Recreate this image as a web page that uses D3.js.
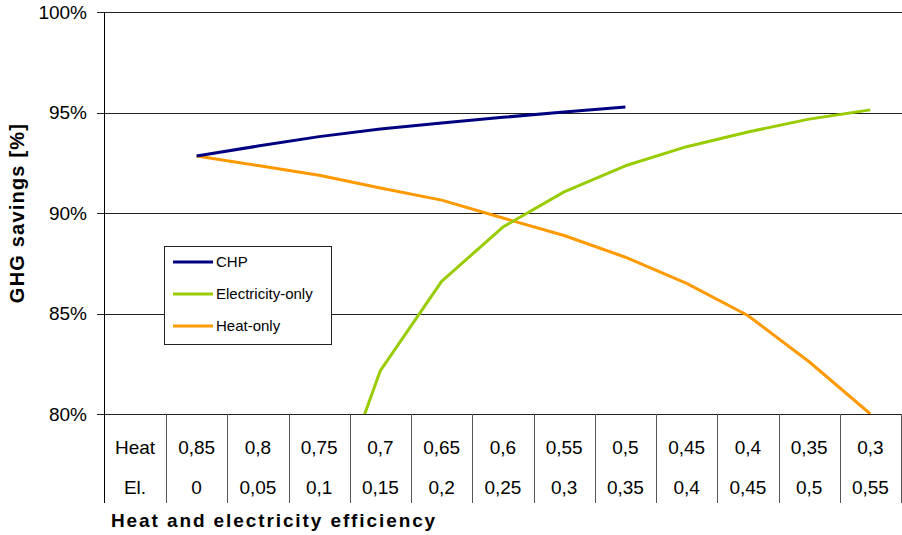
<!DOCTYPE html>
<html><head><meta charset="utf-8">
<script src="https://cdn.jsdelivr.net/npm/d3@7"></script>
<style>body{margin:0;background:#fff}svg{display:block;font-family:"Liberation Sans",Arial,sans-serif}</style>
</head><body>
<script>
const heatEff = ["0,85","0,8","0,75","0,7","0,65","0,6","0,55","0,5","0,45","0,4","0,35","0,3"];
const elEff   = ["0","0,05","0,1","0,15","0,2","0,25","0,3","0,35","0,4","0,45","0,5","0,55"];
const chp        = [92.84, 93.33, 93.8, 94.18, 94.48, 94.76, 95.03, 95.27, null, null, null, null];
const elecOnly   = [null, null, 73.7, 82.16, 86.6, 89.3, 91.05, 92.35, 93.3, 94.03, 94.67, 95.13];
const heatOnly   = [92.84, 92.36, 91.88, 91.24, 90.64, 89.75, 88.88, 87.8, 86.5, 84.9, 82.6, 80.0];
const yTicks = [80, 85, 90, 95, 100];
const seriesNames = ["CHP", "Electricity-only", "Heat-only"];
const seriesColors = ["#000080", "#99cc00", "#ff9900"];

(function(){
const W = 902, H = 535;
const pl = 104, pr = 901, pt = 12, pb = 414, tableBottom = 503, labelColRight = 166;
const svg = d3.select("body").append("svg").attr("width", W).attr("height", H);

const x = d3.scaleBand().domain(d3.range(heatEff.length)).range([labelColRight, pr]).padding(0);
const y = d3.scaleLinear().domain([80, 100]).range([pb, pt]);

svg.append("defs").append("clipPath").attr("id","plot")
  .append("rect").attr("x", pl).attr("y", pt - 2).attr("width", W - pl).attr("height", pb - pt + 2);

// gridlines
svg.append("g").selectAll("line").data(yTicks).join("line")
  .attr("x1", pl - 7).attr("x2", W)
  .attr("y1", d => Math.round(y(d)) + 0.5).attr("y2", d => Math.round(y(d)) + 0.5)
  .attr("stroke", "#222").attr("stroke-width", 1);

// y tick labels
svg.append("g").selectAll("text").data(yTicks).join("text")
  .attr("x", 87).attr("y", d => y(d)).attr("dy", "0.35em")
  .attr("text-anchor", "end").attr("font-size", 19).attr("fill", "#000")
  .text(d => d + "%");

// left axis line
svg.append("line").attr("x1", pl + 0.5).attr("x2", pl + 0.5).attr("y1", pt).attr("y2", tableBottom)
  .attr("stroke", "#000");

// table vertical lines
const bounds = x.domain().map(i => x(i)).concat([pr]);
svg.append("g").selectAll("line").data(bounds).join("line")
  .attr("x1", d => Math.round(d) + 0.5).attr("x2", d => Math.round(d) + 0.5)
  .attr("y1", pb).attr("y2", tableBottom)
  .attr("stroke", "#555");

// table text
const rowY = [447, 487];
const tbl = svg.append("g").attr("font-size", 19).attr("fill", "#000").attr("text-anchor", "middle");
tbl.append("text").attr("x", (pl + labelColRight) / 2).attr("y", rowY[0]).attr("dy", "0.35em").text("Heat");
tbl.append("text").attr("x", (pl + labelColRight) / 2).attr("y", rowY[1]).attr("dy", "0.35em").text("El.");
tbl.selectAll(".h").data(heatEff).join("text").attr("class","h")
  .attr("x", (d, i) => x(i) + x.bandwidth() / 2).attr("y", rowY[0]).attr("dy", "0.35em").text(d => d);
tbl.selectAll(".e").data(elEff).join("text").attr("class","e")
  .attr("x", (d, i) => x(i) + x.bandwidth() / 2).attr("y", rowY[1]).attr("dy", "0.35em").text(d => d);

// lines
const line = d3.line().defined(d => d != null)
  .x((d, i) => x(i) + x.bandwidth() / 2).y(d => y(d));
const seriesData = [chp, elecOnly, heatOnly];
const lg = svg.append("g").attr("clip-path", "url(#plot)");
[2, 1, 0].forEach(k => {
  lg.append("path").datum(seriesData[k]).attr("d", line)
    .attr("fill", "none").attr("stroke", seriesColors[k]).attr("stroke-width", 3)
    .attr("stroke-linejoin", "round");
});

// legend
const leg = svg.append("g");
leg.append("rect").attr("x", 164.5).attr("y", 246.5).attr("width", 167).attr("height", 98)
  .attr("fill", "#fff").attr("stroke", "#222");
seriesNames.forEach((n, i) => {
  const ly = 262 + i * 32;
  leg.append("line").attr("x1", 173).attr("x2", 213).attr("y1", ly).attr("y2", ly)
    .attr("stroke", seriesColors[i]).attr("stroke-width", 3);
  leg.append("text").attr("x", 216).attr("y", ly).attr("dy", "0.35em")
    .attr("font-size", 15).attr("fill", "#000").text(n);
});

// axis titles
svg.append("text").attr("transform", "translate(24,213) rotate(-90)")
  .attr("text-anchor", "middle").attr("font-size", 20).attr("font-weight", "bold")
  .attr("letter-spacing", 1.2).text("GHG savings [%]");
svg.append("text").attr("x", 111).attr("y", 527)
  .attr("font-size", 19).attr("font-weight", "bold").attr("letter-spacing", 1.9)
  .text("Heat and electricity efficiency");
})();
</script>
</body></html>
